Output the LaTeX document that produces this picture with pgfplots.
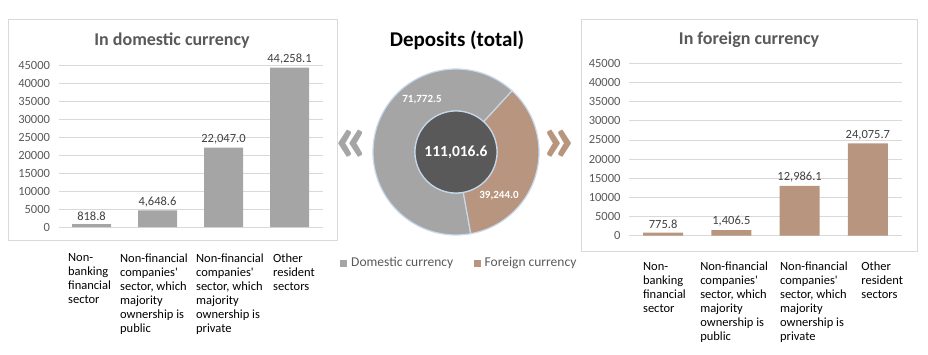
\documentclass[border=0pt]{standalone}
\usepackage{fontspec}
\setmainfont{Carlito}
\usepackage{pgfplots}
\pgfplotsset{compat=1.18}
\definecolor{barGray}{HTML}{A5A5A5}
\definecolor{barBrown}{HTML}{B8957E}
\definecolor{txtGray}{HTML}{595959}
\definecolor{valGray}{HTML}{404040}
\definecolor{gridGray}{HTML}{D9D9D9}
\definecolor{darkCenter}{HTML}{595959}
\definecolor{ringEdge}{HTML}{C6D9EC}

\def\dom{71772.5}
\def\for{39244.0}
\def\startA{47.5}
\edef\domEnd{\fpeval{\startA+360*\dom/(\dom+\for)}}
\edef\forEnd{\fpeval{\domEnd+360*\for/(\dom+\for)}}

\pgfplotsset{
 barpanel/.style={
  scale only axis, anchor=south west,
  xmin=-0.5, xmax=3.5, ymin=0, ymax=45000,
  ytick={0,5000,...,45000},
  scaled y ticks=false,
  axis line style={draw=none},
  major tick length=0pt,
  ymajorgrids, grid style={gridGray, line width=0.8pt},
  /pgf/number format/assume math mode=true,
  yticklabel style={font=\fontsize{12.5}{14}\selectfont, text=txtGray, /pgf/number format/fixed, /pgf/number format/1000 sep={}, xshift=-5pt},
  xticklabel style={font=\fontsize{12.5}{14}\selectfont, text=black, align=left, anchor=north, yshift=-23pt},
  ybar,
  nodes near coords={\pgfmathprintnumber[fixed,fixed zerofill,precision=1,1000 sep={,}]{\pgfplotspointmeta}},
  nodes near coords style={font=\fontsize{12.5}{14}\selectfont, text=valGray},
  xticklabels={{Non-\\banking\\financial\\sector},
               {Non-financial\\companies\textquotesingle\\sector, which\\majority\\ownership is\\public},
               {Non-financial\\companies\textquotesingle\\sector, which\\majority\\ownership is\\private},
               {Other\\resident\\sectors}},
  clip=false,
 }
}

\begin{document}
\begin{tikzpicture}[x=1pt,y=1pt]
\useasboundingbox (0,0) rectangle (928,354);
% panel frames
\draw[gridGray, line width=0.8pt] (8,335) rectangle (337,114);
\draw[gridGray, line width=0.8pt] (581,334.5) rectangle (917,103);
% titles
\node[text=txtGray, font=\bfseries\fontsize{18}{20}\selectfont] at (172,313.5) {In domestic currency};
\node[text=txtGray, font=\bfseries\fontsize{18}{20}\selectfont] at (749,314.5) {In foreign currency};
\node[text=black, font=\bfseries\fontsize{21}{24}\selectfont] at (457,314) {Deposits (total)};

% left bar chart
\begin{axis}[barpanel, at={(58.5pt,127pt)}, width=264pt, height=162pt, bar width=39pt,
  xtick={-0.03,0.947,2.098,3.068}]
\addplot[fill=barGray, draw=none] coordinates {(0,818.8) (1,4648.6) (2,22047.0) (3,44258.1)};
\end{axis}

% right bar chart
\begin{axis}[barpanel, at={(629pt,118.5pt)}, width=273pt, height=172pt, bar width=40pt,
  xtick={0.02,1.04,2.21,3.21}]
\addplot[fill=barBrown, draw=none] coordinates {(0,775.8) (1,1406.5) (2,12986.1) (3,24075.7)};
\end{axis}

% donut
\begin{axis}[at={(456pt,202pt)}, anchor=center, scale only axis, width=180pt, height=180pt,
  xmin=-1, xmax=1, ymin=-1, ymax=1, hide axis, clip=false]
\coordinate (C) at (axis cs:0,0);
\filldraw[fill=barGray, draw=ringEdge, line width=1.2pt]
  ([shift={(\startA:83pt)}]C) arc[start angle=\startA, end angle=\domEnd, radius=83pt]
  -- ([shift={(\domEnd:41pt)}]C) arc[start angle=\domEnd, end angle=\startA, radius=41pt] -- cycle;
\filldraw[fill=barBrown, draw=ringEdge, line width=1.2pt]
  ([shift={(\domEnd:83pt)}]C) arc[start angle=\domEnd, end angle=\forEnd, radius=83pt]
  -- ([shift={(\forEnd:41pt)}]C) arc[start angle=\forEnd, end angle=\domEnd, radius=41pt] -- cycle;
\filldraw[fill=darkCenter, draw=ringEdge, line width=1.2pt] (C) circle[radius=41pt];
\node[text=white, font=\bfseries\fontsize{15.5}{18}\selectfont] at (C) {111,016.6};
\node[text=white, font=\bfseries\fontsize{11}{13}\selectfont] at ([shift={(-34pt,52pt)}]C) {71,772.5};
\node[text=white, font=\bfseries\fontsize{11}{13}\selectfont] at ([shift={(43pt,-44pt)}]C) {39,244.0};
\end{axis}

% chevrons
\node[text=barGray, font=\bfseries\fontsize{70}{70}\selectfont, inner sep=0pt] at (352,208) {«};
\node[text=barBrown, font=\bfseries\fontsize{70}{70}\selectfont, inner sep=0pt] at (560,208) {»};

% legend
\fill[barGray] (340,87) rectangle (347,94);
\node[anchor=west, inner sep=0pt, text=txtGray, font=\fontsize{13.5}{15}\selectfont] at (351,91) {Domestic currency};
\fill[barBrown] (474,87) rectangle (481,94);
\node[anchor=west, inner sep=0pt, text=txtGray, font=\fontsize{13.5}{15}\selectfont] at (484.5,91) {Foreign currency};
\end{tikzpicture}
\end{document}
